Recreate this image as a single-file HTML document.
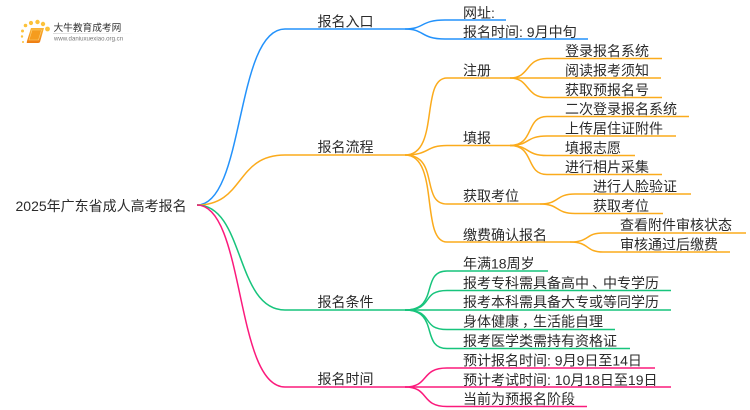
<!DOCTYPE html>
<html>
<head>
<meta charset="utf-8">
<style>
html,body{margin:0;padding:0;background:#fff;width:750px;height:410px;overflow:hidden}
svg{display:block;filter:blur(.35px)}
text{font-family:"Liberation Sans","WenQuanYi Zen Hei","Noto Sans CJK SC",sans-serif;font-size:14px;fill:#2b2b2b}
.l{fill:none;stroke-width:1.5}
.b{stroke:#2392fb}.o{stroke:#fbab1c}.g{stroke:#17c47c}.p{stroke:#fb1a7c}
</style>
</head>
<body>
<svg width="750" height="410" viewBox="0 0 750 410" xmlns="http://www.w3.org/2000/svg">
<!-- logo -->
<defs><linearGradient id="bk" x1="0" y1="0" x2="0" y2="1"><stop offset="0" stop-color="#fbb534"/><stop offset="1" stop-color="#ee7d12"/></linearGradient>
<linearGradient id="ul" x1="0" y1="0" x2="1" y2="0"><stop offset="0" stop-color="#ccc"/><stop offset="1" stop-color="#fff"/></linearGradient></defs>
<g fill="#fcc23a">
<circle cx="23" cy="42" r="1"/><circle cx="22" cy="36.5" r="1.2"/><circle cx="22.5" cy="31" r="1.5"/><circle cx="25.5" cy="25.5" r="1.8"/><circle cx="31" cy="23" r="2.1"/><circle cx="37.5" cy="22" r="2.2"/><circle cx="43" cy="24" r="2.2"/><circle cx="47.5" cy="29" r="2.4"/>
</g>
<path d="M31 28H44L40 42Q39.5 43 38 43H27Q26.500 43 27 41Z" fill="url(#bk)"/>
<path d="M32 30H41.5L38.5 40H29Z" fill="#f59c1e" stroke="#fcd27a" stroke-width=".6"/>
<text x="53.5" y="31" style="font-size:9.7px;fill:#333">大牛教育成考网</text>
<rect x="53" y="33" width="80" height=".7" fill="url(#ul)"/>
<text x="54" y="40.5" style="font-size:6.1px;fill:#777">www.daniuxuexiao.org.cn</text>

<!-- root branches -->
<path class="l b" d="M197 205C245 205 235 29 285 29H405"/>
<path class="l o" d="M197 205C245 205 235 155 285 155H405"/>
<path class="l g" d="M197 205C245 205 235 310 285 310H405"/>
<path class="l p" d="M197 205C245 205 235 387 285 387H405"/>

<!-- entry -->
<path class="l b" d="M405 29C425 29 420 20 445 20H506"/>
<path class="l b" d="M405 29C425 29 420 39 445 39H588"/>

<!-- process -->
<path class="l o" d="M405 155C440 155 420 78 447 78H510"/>
<path class="l o" d="M405 155C430 155 425 145.5 447 145.5H510"/>
<path class="l o" d="M405 155C440 155 420 204 447 204H540"/>
<path class="l o" d="M405 155C440 155 420 242 447 242H570"/>

<path class="l o" d="M510 78C530 78 525 58.5 547 58.5H662"/>
<path class="l o" d="M510 78H661"/>
<path class="l o" d="M510 78C530 78 525 97.5 547 97.5H662"/>

<path class="l o" d="M510 145.5C535 145.5 525 116.5 547 116.5H689"/>
<path class="l o" d="M510 145.5C530 145.5 525 136 547 136H676"/>
<path class="l o" d="M510 145.5C530 145.5 525 155.5 547 155.5H635"/>
<path class="l o" d="M510 145.5C535 145.5 525 174.5 547 174.5H662"/>

<path class="l o" d="M540 204C560 204 555 194 575 194H691"/>
<path class="l o" d="M540 204C560 204 555 213.5 575 213.5H663"/>

<path class="l o" d="M570 242C590 242 585 233 603 233H746"/>
<path class="l o" d="M570 242C590 242 585 252 603 252H730"/>

<!-- conditions -->
<path class="l g" d="M405 310C440 310 420 271 447 271H548"/>
<path class="l g" d="M405 310C435 310 420 290.5 447 290.5H671"/>
<path class="l g" d="M405 310H671"/>
<path class="l g" d="M405 310C435 310 420 329.5 447 329.5H615"/>
<path class="l g" d="M405 310C440 310 420 348.5 447 348.5H630"/>

<!-- time -->
<path class="l p" d="M405 387C430 387 420 368 447 368H655"/>
<path class="l p" d="M405 387H671"/>
<path class="l p" d="M405 387C430 387 420 406.5 447 406.5H587"/>

<!-- labels -->
<text x="15.5" y="211">2025年广东省成人高考报名</text>
<text x="317.5" y="26.500">报名入口</text>
<text x="317.5" y="152">报名流程</text>
<text x="317.5" y="307">报名条件</text>
<text x="317.5" y="384">报名时间</text>

<text x="463" y="18">网址:</text>
<text x="463" y="37">报名时间: 9月中旬</text>

<text x="463" y="75.5">注册</text>
<text x="463" y="143">填报</text>
<text x="463" y="201">获取考位</text>
<text x="463" y="240">缴费确认报名</text>

<text x="565" y="56">登录报名系统</text>
<text x="565" y="75.5">阅读报考须知</text>
<text x="565" y="95">获取预报名号</text>
<text x="565" y="114">二次登录报名系统</text>
<text x="565" y="133.5">上传居住证附件</text>
<text x="565" y="153">填报志愿</text>
<text x="565" y="172">进行相片采集</text>
<text x="593" y="191.5">进行人脸验证</text>
<text x="593" y="211">获取考位</text>
<text x="620" y="230">查看附件审核状态</text>
<text x="620" y="249.5">审核通过后缴费</text>

<text x="463" y="268.5">年满18周岁</text>
<text x="463" y="288">报考专科需具备高中<tspan dx="3">、</tspan><tspan dx="-3">中专学历</tspan></text>
<text x="463" y="307">报考本科需具备大专或等同学历</text>
<text x="463" y="326.5">身体健康<tspan dx="3">，</tspan><tspan dx="-3">生活能自理</tspan></text>
<text x="463" y="346">报考医学类需持有资格证</text>
<text x="463" y="365.5">预计报名时间: 9月9日至14日</text>
<text x="463" y="385">预计考试时间: 10月18日至19日</text>
<text x="463" y="404">当前为预报名阶段</text>
</svg>
</body>
</html>
